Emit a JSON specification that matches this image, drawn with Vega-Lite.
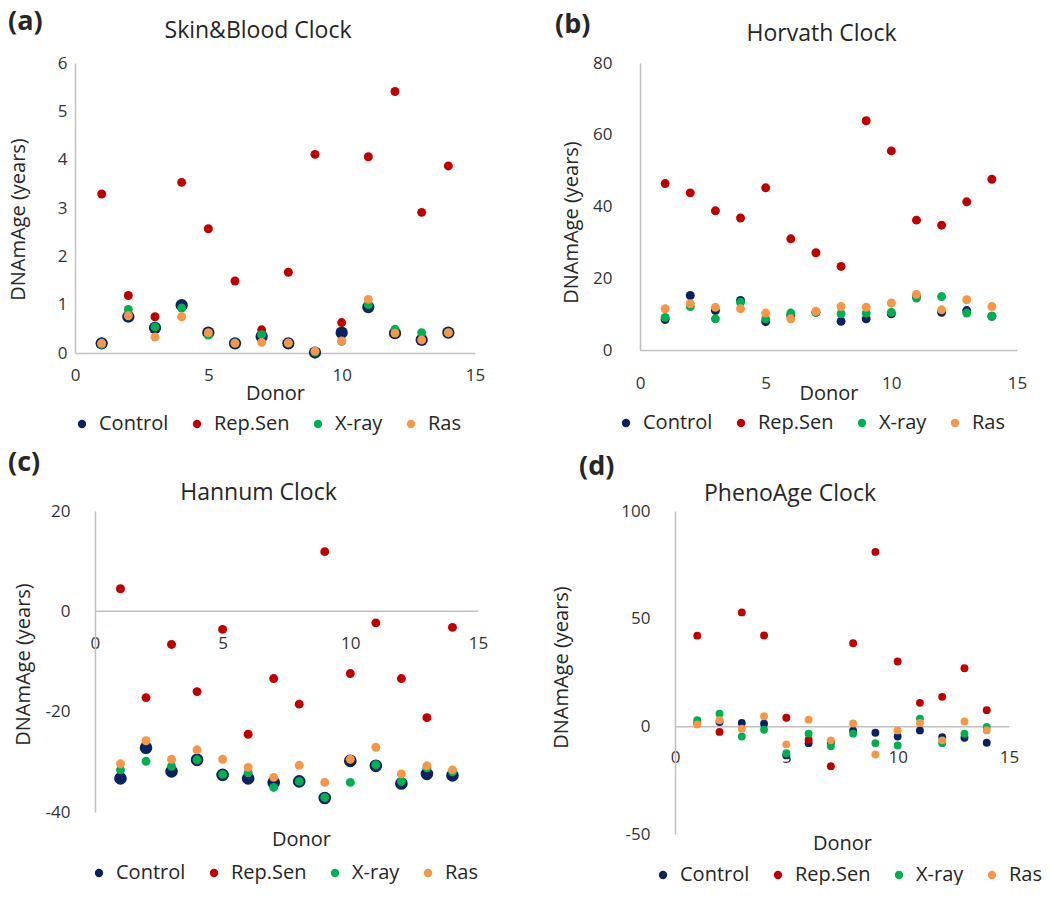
{
  "$schema": "https://vega.github.io/schema/vega-lite/v6.json",
  "background": "white",
  "padding": {"left": 8, "top": 8, "right": 5, "bottom": 0},
  "datasets": {
    "clocks": [
      {"clock":"SB","donor":1,"group":"Control","age":0.2},{"clock":"SB","donor":2,"group":"Control","age":0.75},{"clock":"SB","donor":3,"group":"Control","age":0.52},{"clock":"SB","donor":4,"group":"Control","age":0.99},{"clock":"SB","donor":5,"group":"Control","age":0.42},{"clock":"SB","donor":6,"group":"Control","age":0.2},{"clock":"SB","donor":7,"group":"Control","age":0.34},{"clock":"SB","donor":8,"group":"Control","age":0.2},{"clock":"SB","donor":9,"group":"Control","age":0.01},{"clock":"SB","donor":10,"group":"Control","age":0.42},{"clock":"SB","donor":11,"group":"Control","age":0.95},{"clock":"SB","donor":12,"group":"Control","age":0.41},{"clock":"SB","donor":13,"group":"Control","age":0.27},{"clock":"SB","donor":14,"group":"Control","age":0.42},
      {"clock":"SB","donor":1,"group":"Rep.Sen","age":3.29},{"clock":"SB","donor":2,"group":"Rep.Sen","age":1.19},{"clock":"SB","donor":3,"group":"Rep.Sen","age":0.75},{"clock":"SB","donor":4,"group":"Rep.Sen","age":3.53},{"clock":"SB","donor":5,"group":"Rep.Sen","age":2.57},{"clock":"SB","donor":6,"group":"Rep.Sen","age":1.49},{"clock":"SB","donor":7,"group":"Rep.Sen","age":0.48},{"clock":"SB","donor":8,"group":"Rep.Sen","age":1.67},{"clock":"SB","donor":9,"group":"Rep.Sen","age":4.11},{"clock":"SB","donor":10,"group":"Rep.Sen","age":0.63},{"clock":"SB","donor":11,"group":"Rep.Sen","age":4.06},{"clock":"SB","donor":12,"group":"Rep.Sen","age":5.41},{"clock":"SB","donor":13,"group":"Rep.Sen","age":2.91},{"clock":"SB","donor":14,"group":"Rep.Sen","age":3.87},
      {"clock":"SB","donor":1,"group":"X-ray","age":0.18},{"clock":"SB","donor":2,"group":"X-ray","age":0.9},{"clock":"SB","donor":3,"group":"X-ray","age":0.54},{"clock":"SB","donor":4,"group":"X-ray","age":0.93},{"clock":"SB","donor":5,"group":"X-ray","age":0.37},{"clock":"SB","donor":6,"group":"X-ray","age":0.21},{"clock":"SB","donor":7,"group":"X-ray","age":0.38},{"clock":"SB","donor":8,"group":"X-ray","age":0.2},{"clock":"SB","donor":9,"group":"X-ray","age":0.02},{"clock":"SB","donor":10,"group":"X-ray","age":0.24},{"clock":"SB","donor":11,"group":"X-ray","age":1.0},{"clock":"SB","donor":12,"group":"X-ray","age":0.49},{"clock":"SB","donor":13,"group":"X-ray","age":0.42},{"clock":"SB","donor":14,"group":"X-ray","age":0.42},
      {"clock":"SB","donor":1,"group":"Ras","age":0.2},{"clock":"SB","donor":2,"group":"Ras","age":0.77},{"clock":"SB","donor":3,"group":"Ras","age":0.33},{"clock":"SB","donor":4,"group":"Ras","age":0.75},{"clock":"SB","donor":5,"group":"Ras","age":0.42},{"clock":"SB","donor":6,"group":"Ras","age":0.2},{"clock":"SB","donor":7,"group":"Ras","age":0.22},{"clock":"SB","donor":8,"group":"Ras","age":0.21},{"clock":"SB","donor":9,"group":"Ras","age":0.04},{"clock":"SB","donor":10,"group":"Ras","age":0.25},{"clock":"SB","donor":11,"group":"Ras","age":1.11},{"clock":"SB","donor":12,"group":"Ras","age":0.41},{"clock":"SB","donor":13,"group":"Ras","age":0.27},{"clock":"SB","donor":14,"group":"Ras","age":0.42},

      {"clock":"HO","donor":1,"group":"Control","age":8.5},{"clock":"HO","donor":2,"group":"Control","age":15.2},{"clock":"HO","donor":3,"group":"Control","age":11.0},{"clock":"HO","donor":4,"group":"Control","age":13.8},{"clock":"HO","donor":5,"group":"Control","age":7.9},{"clock":"HO","donor":6,"group":"Control","age":9.6},{"clock":"HO","donor":7,"group":"Control","age":10.5},{"clock":"HO","donor":8,"group":"Control","age":8.0},{"clock":"HO","donor":9,"group":"Control","age":8.7},{"clock":"HO","donor":10,"group":"Control","age":10.1},{"clock":"HO","donor":11,"group":"Control","age":15.0},{"clock":"HO","donor":12,"group":"Control","age":10.5},{"clock":"HO","donor":13,"group":"Control","age":11.0},{"clock":"HO","donor":14,"group":"Control","age":9.4},
      {"clock":"HO","donor":1,"group":"Rep.Sen","age":46.4},{"clock":"HO","donor":2,"group":"Rep.Sen","age":43.8},{"clock":"HO","donor":3,"group":"Rep.Sen","age":38.8},{"clock":"HO","donor":4,"group":"Rep.Sen","age":36.8},{"clock":"HO","donor":5,"group":"Rep.Sen","age":45.2},{"clock":"HO","donor":6,"group":"Rep.Sen","age":31.0},{"clock":"HO","donor":7,"group":"Rep.Sen","age":27.1},{"clock":"HO","donor":8,"group":"Rep.Sen","age":23.3},{"clock":"HO","donor":9,"group":"Rep.Sen","age":63.9},{"clock":"HO","donor":10,"group":"Rep.Sen","age":55.5},{"clock":"HO","donor":11,"group":"Rep.Sen","age":36.2},{"clock":"HO","donor":12,"group":"Rep.Sen","age":34.8},{"clock":"HO","donor":13,"group":"Rep.Sen","age":41.3},{"clock":"HO","donor":14,"group":"Rep.Sen","age":47.6},
      {"clock":"HO","donor":1,"group":"X-ray","age":9.1},{"clock":"HO","donor":2,"group":"X-ray","age":12.1},{"clock":"HO","donor":3,"group":"X-ray","age":8.7},{"clock":"HO","donor":4,"group":"X-ray","age":13.3},{"clock":"HO","donor":5,"group":"X-ray","age":8.7},{"clock":"HO","donor":6,"group":"X-ray","age":10.3},{"clock":"HO","donor":7,"group":"X-ray","age":10.5},{"clock":"HO","donor":8,"group":"X-ray","age":10.1},{"clock":"HO","donor":9,"group":"X-ray","age":10.3},{"clock":"HO","donor":10,"group":"X-ray","age":10.5},{"clock":"HO","donor":11,"group":"X-ray","age":14.5},{"clock":"HO","donor":12,"group":"X-ray","age":14.9},{"clock":"HO","donor":13,"group":"X-ray","age":10.3},{"clock":"HO","donor":14,"group":"X-ray","age":9.4},
      {"clock":"HO","donor":1,"group":"Ras","age":11.5},{"clock":"HO","donor":2,"group":"Ras","age":12.9},{"clock":"HO","donor":3,"group":"Ras","age":11.9},{"clock":"HO","donor":4,"group":"Ras","age":11.5},{"clock":"HO","donor":5,"group":"Ras","age":10.3},{"clock":"HO","donor":6,"group":"Ras","age":8.7},{"clock":"HO","donor":7,"group":"Ras","age":10.8},{"clock":"HO","donor":8,"group":"Ras","age":12.1},{"clock":"HO","donor":9,"group":"Ras","age":11.9},{"clock":"HO","donor":10,"group":"Ras","age":13.1},{"clock":"HO","donor":11,"group":"Ras","age":15.5},{"clock":"HO","donor":12,"group":"Ras","age":11.2},{"clock":"HO","donor":13,"group":"Ras","age":14.0},{"clock":"HO","donor":14,"group":"Ras","age":12.1},

      {"clock":"HA","donor":1,"group":"Control","age":-33.3},{"clock":"HA","donor":2,"group":"Control","age":-27.2},{"clock":"HA","donor":3,"group":"Control","age":-31.9},{"clock":"HA","donor":4,"group":"Control","age":-29.6},{"clock":"HA","donor":5,"group":"Control","age":-32.6},{"clock":"HA","donor":6,"group":"Control","age":-33.3},{"clock":"HA","donor":7,"group":"Control","age":-34.1},{"clock":"HA","donor":8,"group":"Control","age":-33.9},{"clock":"HA","donor":9,"group":"Control","age":-37.2},{"clock":"HA","donor":10,"group":"Control","age":-29.8},{"clock":"HA","donor":11,"group":"Control","age":-30.8},{"clock":"HA","donor":12,"group":"Control","age":-34.3},{"clock":"HA","donor":13,"group":"Control","age":-32.4},{"clock":"HA","donor":14,"group":"Control","age":-32.7},
      {"clock":"HA","donor":1,"group":"Rep.Sen","age":4.5},{"clock":"HA","donor":2,"group":"Rep.Sen","age":-17.2},{"clock":"HA","donor":3,"group":"Rep.Sen","age":-6.6},{"clock":"HA","donor":4,"group":"Rep.Sen","age":-16.0},{"clock":"HA","donor":5,"group":"Rep.Sen","age":-3.6},{"clock":"HA","donor":6,"group":"Rep.Sen","age":-24.5},{"clock":"HA","donor":7,"group":"Rep.Sen","age":-13.4},{"clock":"HA","donor":8,"group":"Rep.Sen","age":-18.5},{"clock":"HA","donor":9,"group":"Rep.Sen","age":11.9},{"clock":"HA","donor":10,"group":"Rep.Sen","age":-12.4},{"clock":"HA","donor":11,"group":"Rep.Sen","age":-2.3},{"clock":"HA","donor":12,"group":"Rep.Sen","age":-13.4},{"clock":"HA","donor":13,"group":"Rep.Sen","age":-21.2},{"clock":"HA","donor":14,"group":"Rep.Sen","age":-3.2},
      {"clock":"HA","donor":1,"group":"X-ray","age":-31.6},{"clock":"HA","donor":2,"group":"X-ray","age":-29.9},{"clock":"HA","donor":3,"group":"X-ray","age":-30.9},{"clock":"HA","donor":4,"group":"X-ray","age":-29.6},{"clock":"HA","donor":5,"group":"X-ray","age":-32.5},{"clock":"HA","donor":6,"group":"X-ray","age":-32.2},{"clock":"HA","donor":7,"group":"X-ray","age":-35.1},{"clock":"HA","donor":8,"group":"X-ray","age":-33.9},{"clock":"HA","donor":9,"group":"X-ray","age":-37.1},{"clock":"HA","donor":10,"group":"X-ray","age":-34.1},{"clock":"HA","donor":11,"group":"X-ray","age":-30.6},{"clock":"HA","donor":12,"group":"X-ray","age":-33.9},{"clock":"HA","donor":13,"group":"X-ray","age":-31.2},{"clock":"HA","donor":14,"group":"X-ray","age":-32.0},
      {"clock":"HA","donor":1,"group":"Ras","age":-30.4},{"clock":"HA","donor":2,"group":"Ras","age":-25.8},{"clock":"HA","donor":3,"group":"Ras","age":-29.5},{"clock":"HA","donor":4,"group":"Ras","age":-27.6},{"clock":"HA","donor":5,"group":"Ras","age":-29.5},{"clock":"HA","donor":6,"group":"Ras","age":-31.1},{"clock":"HA","donor":7,"group":"Ras","age":-33.1},{"clock":"HA","donor":8,"group":"Ras","age":-30.7},{"clock":"HA","donor":9,"group":"Ras","age":-34.1},{"clock":"HA","donor":10,"group":"Ras","age":-29.5},{"clock":"HA","donor":11,"group":"Ras","age":-27.1},{"clock":"HA","donor":12,"group":"Ras","age":-32.4},{"clock":"HA","donor":13,"group":"Ras","age":-30.8},{"clock":"HA","donor":14,"group":"Ras","age":-31.6},

      {"clock":"PA","donor":1,"group":"Control","age":1.5},{"clock":"PA","donor":2,"group":"Control","age":2.0},{"clock":"PA","donor":3,"group":"Control","age":1.6},{"clock":"PA","donor":4,"group":"Control","age":1.2},{"clock":"PA","donor":5,"group":"Control","age":-13.5},{"clock":"PA","donor":6,"group":"Control","age":-7.8},{"clock":"PA","donor":7,"group":"Control","age":-7.5},{"clock":"PA","donor":8,"group":"Control","age":-2.0},{"clock":"PA","donor":9,"group":"Control","age":-3.0},{"clock":"PA","donor":10,"group":"Control","age":-4.7},{"clock":"PA","donor":11,"group":"Control","age":-1.9},{"clock":"PA","donor":12,"group":"Control","age":-5.0},{"clock":"PA","donor":13,"group":"Control","age":-5.3},{"clock":"PA","donor":14,"group":"Control","age":-7.6},
      {"clock":"PA","donor":1,"group":"Rep.Sen","age":42.1},{"clock":"PA","donor":2,"group":"Rep.Sen","age":-2.6},{"clock":"PA","donor":3,"group":"Rep.Sen","age":52.9},{"clock":"PA","donor":4,"group":"Rep.Sen","age":42.2},{"clock":"PA","donor":5,"group":"Rep.Sen","age":4.0},{"clock":"PA","donor":6,"group":"Rep.Sen","age":-6.2},{"clock":"PA","donor":7,"group":"Rep.Sen","age":-18.5},{"clock":"PA","donor":8,"group":"Rep.Sen","age":38.6},{"clock":"PA","donor":9,"group":"Rep.Sen","age":81.0},{"clock":"PA","donor":10,"group":"Rep.Sen","age":30.1},{"clock":"PA","donor":11,"group":"Rep.Sen","age":10.9},{"clock":"PA","donor":12,"group":"Rep.Sen","age":13.7},{"clock":"PA","donor":13,"group":"Rep.Sen","age":27.0},{"clock":"PA","donor":14,"group":"Rep.Sen","age":7.5},
      {"clock":"PA","donor":1,"group":"X-ray","age":2.8},{"clock":"PA","donor":2,"group":"X-ray","age":5.9},{"clock":"PA","donor":3,"group":"X-ray","age":-4.7},{"clock":"PA","donor":4,"group":"X-ray","age":-1.6},{"clock":"PA","donor":5,"group":"X-ray","age":-12.5},{"clock":"PA","donor":6,"group":"X-ray","age":-3.4},{"clock":"PA","donor":7,"group":"X-ray","age":-9.3},{"clock":"PA","donor":8,"group":"X-ray","age":-3.4},{"clock":"PA","donor":9,"group":"X-ray","age":-7.8},{"clock":"PA","donor":10,"group":"X-ray","age":-8.9},{"clock":"PA","donor":11,"group":"X-ray","age":3.6},{"clock":"PA","donor":12,"group":"X-ray","age":-7.8},{"clock":"PA","donor":13,"group":"X-ray","age":-3.4},{"clock":"PA","donor":14,"group":"X-ray","age":-0.3},
      {"clock":"PA","donor":1,"group":"Ras","age":0.9},{"clock":"PA","donor":2,"group":"Ras","age":2.8},{"clock":"PA","donor":3,"group":"Ras","age":-1.1},{"clock":"PA","donor":4,"group":"Ras","age":4.7},{"clock":"PA","donor":5,"group":"Ras","age":-8.4},{"clock":"PA","donor":6,"group":"Ras","age":3.1},{"clock":"PA","donor":7,"group":"Ras","age":-6.5},{"clock":"PA","donor":8,"group":"Ras","age":1.3},{"clock":"PA","donor":9,"group":"Ras","age":-13.1},{"clock":"PA","donor":10,"group":"Ras","age":-1.9},{"clock":"PA","donor":11,"group":"Ras","age":1.6},{"clock":"PA","donor":12,"group":"Ras","age":-6.5},{"clock":"PA","donor":13,"group":"Ras","age":2.3},{"clock":"PA","donor":14,"group":"Ras","age":-1.9}
    ]
  },
  "data": {"name": "clocks"},
  "spacing": 15,
  "resolve": {"scale": {"color": "independent"}, "legend": {"color": "independent"}},
  "vconcat": [
    {
      "spacing": 70,
      "resolve": {"scale": {"color": "independent"}, "legend": {"color": "independent"}},
      "hconcat": [
        {
          "title": {"text": "(a)", "anchor": "start", "fontSize": 27, "fontWeight": "bold", "offset": -16},
          "resolve": {"scale": {"color": "independent"}, "legend": {"color": "independent"}},
          "vconcat": [
            {
              "title": {"text": "Skin&Blood Clock", "anchor": "middle", "dx": -17, "offset": 11},
              "width": 400,
              "height": 290,
              "transform": [{"filter": "datum.clock === 'SB'"}],
              "mark": {"type": "point", "filled": true, "opacity": 1},
              "encoding": {
                "x": {"field": "donor", "type": "quantitative", "scale": {"domain": [0, 15]},
                      "axis": {"values": [0, 5, 10, 15], "title": "Donor", "labelPadding": 14, "titleY": 30}},
                "y": {"field": "age", "type": "quantitative", "scale": {"domain": [0, 6]},
                      "axis": {"values": [0, 1, 2, 3, 4, 5, 6], "title": "DNAmAge (years)", "labelPadding": 8, "titleX": -57, "titleY": 156, "titleBaseline": "middle"}},
                "color": {"field": "group", "type": "nominal",
                          "scale": {"domain": ["Control", "Rep.Sen", "X-ray", "Ras"], "range": ["#0b2160", "#c00000", "#00b050", "#f79646"]},
                          "legend": {"title": null, "orient": "none", "legendX": -3, "legendY": 351}},
                "size": {"condition": {"test": "datum.group === 'Control'", "value": 150}, "value": 80}
              }
            }
          ]
        },
        {
          "title": {"text": "(b)", "anchor": "start", "fontSize": 27, "fontWeight": "bold", "offset": -16, "dx": -6},
          "resolve": {"scale": {"color": "independent"}, "legend": {"color": "independent"}},
          "vconcat": [
            {
              "title": {"text": "Horvath Clock", "anchor": "middle", "dx": -7, "offset": 8},
              "width": 377,
              "height": 287,
              "transform": [{"filter": "datum.clock === 'HO'"}],
              "mark": {"type": "point", "filled": true, "opacity": 1},
              "encoding": {
                "x": {"field": "donor", "type": "quantitative", "scale": {"domain": [0, 15]},
                      "axis": {"values": [0, 5, 10, 15], "title": "Donor", "labelPadding": 25, "titleY": 33}},
                "y": {"field": "age", "type": "quantitative", "scale": {"domain": [0, 80]},
                      "axis": {"values": [0, 20, 40, 60, 80], "title": "DNAmAge (years)", "labelPadding": 28, "titleX": -69, "titleY": 159, "titleBaseline": "middle"}},
                "color": {"field": "group", "type": "nominal",
                          "scale": {"domain": ["Control", "Rep.Sen", "X-ray", "Ras"], "range": ["#0b2160", "#c00000", "#00b050", "#f79646"]},
                          "legend": {"title": null, "orient": "none", "legendX": -24, "legendY": 350}},
                "size": {"value": 80}
              }
            }
          ]
        }
      ]
    },
    {
      "spacing": 63,
      "resolve": {"scale": {"color": "independent"}, "legend": {"color": "independent"}},
      "hconcat": [
        {
          "title": {"text": "(c)", "anchor": "start", "fontSize": 27, "fontWeight": "bold", "offset": 5, "dx": -5},
          "resolve": {"scale": {"color": "independent"}, "legend": {"color": "independent"}},
          "vconcat": [
            {
              "title": {"text": "Hannum Clock", "anchor": "middle", "dx": -18, "offset": -3},
              "width": 403,
              "height": 301,
              "transform": [{"filter": "datum.clock === 'HA'"}],
              "layer": [
                {
                  "data": {"values": [{}]},
                  "mark": {"type": "rule", "color": "#c0c0c0", "strokeWidth": 1.5},
                  "encoding": {"x": {"datum": 0}, "x2": {"datum": 15}, "y": {"datum": 0}}
                },
                {
                  "mark": {"type": "point", "filled": true, "opacity": 1},
                  "encoding": {
                    "x": {"field": "donor", "type": "quantitative", "scale": {"domain": [-0.78, 15], "nice": false, "zero": false},
                          "axis": {"values": [0, 5, 10, 15], "domain": false, "title": "Donor", "offset": -200.7, "labelPadding": 24, "titleX": 226, "titleY": 218}},
                    "y": {"field": "age", "type": "quantitative", "scale": {"domain": [-40, 20]},
                          "axis": {"values": [-40, -20, 0, 20], "labelExpr": "'' + datum.value", "offset": -20, "title": "DNAmAge (years)", "labelPadding": 25, "titleX": -72, "titleY": 153, "titleBaseline": "middle"}},
                    "color": {"field": "group", "type": "nominal",
                              "scale": {"domain": ["Control", "Rep.Sen", "X-ray", "Ras"], "range": ["#0b2160", "#c00000", "#00b050", "#f79646"]},
                              "legend": {"title": null, "orient": "none", "legendX": 14, "legendY": 352}},
                    "size": {"condition": {"test": "datum.group === 'Control'", "value": 160}, "value": 80}
                  }
                }
              ]
            }
          ]
        },
        {
          "title": {"text": "(d)", "anchor": "start", "fontSize": 27, "fontWeight": "bold", "offset": 2, "dx": 28},
          "resolve": {"scale": {"color": "independent"}, "legend": {"color": "independent"}},
          "vconcat": [
            {
              "title": {"text": "PhenoAge Clock", "anchor": "middle", "dx": -52, "offset": -4},
              "width": 334,
              "height": 323,
              "transform": [{"filter": "datum.clock === 'PA'"}],
              "mark": {"type": "point", "filled": true, "opacity": 1},
              "encoding": {
                "x": {"field": "donor", "type": "quantitative", "scale": {"domain": [0, 15]},
                      "axis": {"values": [0, 5, 10, 15], "title": "Donor", "offset": -107.7, "labelPadding": 23, "titleY": 107}},
                "y": {"field": "age", "type": "quantitative", "scale": {"domain": [-50, 100]},
                      "axis": {"values": [-50, 0, 50, 100], "labelExpr": "'' + datum.value", "title": "DNAmAge (years)", "labelPadding": 25, "titleX": -114, "titleY": 156, "titleBaseline": "middle"}},
                "color": {"field": "group", "type": "nominal",
                          "scale": {"domain": ["Control", "Rep.Sen", "X-ray", "Ras"], "range": ["#0b2160", "#c00000", "#00b050", "#f79646"]},
                          "legend": {"title": null, "orient": "none", "legendX": -22, "legendY": 354}},
                "size": {"value": 62}
              }
            }
          ]
        }
      ]
    }
  ],
  "config": {
    "font": "Open Sans",
    "view": {"stroke": null},
    "title": {"font": "Open Sans", "fontSize": 23, "fontWeight": "normal", "color": "#262626"},
    "axis": {"grid": false, "ticks": false, "labelFlush": false, "domainColor": "#c0c0c0", "domainWidth": 1.5,
             "labelFont": "Open Sans", "labelFontSize": 17, "labelColor": "#333333",
             "titleFont": "Open Sans", "titleFontSize": 20, "titleFontWeight": "normal", "titleColor": "#262626"},
    "legend": {"direction": "horizontal", "symbolType": "circle", "symbolSize": 70,
               "labelFont": "Open Sans", "labelFontSize": 20, "labelColor": "#262626", "labelOffset": 7,
               "columnPadding": 18}
  }
}
